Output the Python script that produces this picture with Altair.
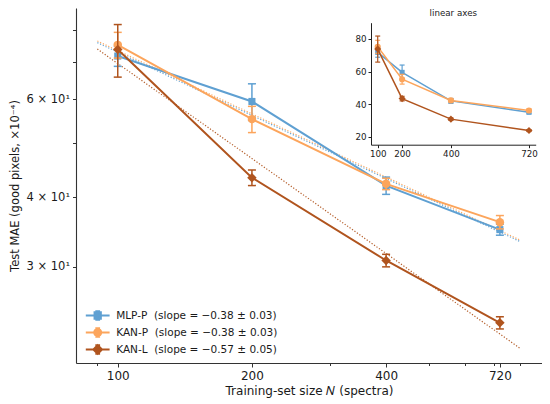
import altair as alt
import pandas as pd

# ---------------- data ----------------
N = [100, 200, 400, 720]
series_names = ["MLP-P", "KAN-P", "KAN-L"]
legend_labels = [
    "MLP-P\u00a0 (slope = \u22120.38 \u00b1 0.03)",
    "KAN-P\u00a0 (slope = \u22120.38 \u00b1 0.03)",
    "KAN-L\u00a0 (slope = \u22120.57 \u00b1 0.05)",
]
mae_mlp = [71.8, 59.5, 42.0, 35.0]
err_mlp = [3.0, 4.5, 1.5, 0.8]
mae_kanp = [75.2, 55.3, 42.3, 36.1]
err_kanp = [4.0, 3.0, 1.0, 1.0]
mae_kanl = [73.8, 43.4, 30.8, 23.8]
err_kanl = [8.0, 1.4, 0.8, 0.6]

fit_N = [90, 800]
fit_mlp = [75.9, 33.3]
fit_kanp = [76.4, 33.5]
fit_kanl = [73.9, 21.4]

colors = ["#5fa0d2", "#fca55c", "#b0541e"]
main_shapes = ["square", "circle", "diamond"]
main_sizes = [50, 72, 90]
inset_sizes = [26, 38, 50]

x_major = [100, 200, 400, 720]
x_minor = [90, 300, 500, 600, 700, 800]
y_major = [30, 40, 60]
y_major_labels = ["3 \u00d7 10\u00b9", "4 \u00d7 10\u00b9", "6 \u00d7 10\u00b9"]
y_minor = [50, 70, 80]
inset_x_ticks = [100, 200, 400, 720]
inset_y_ticks = [20, 40, 60, 80]

maes = [mae_mlp, mae_kanp, mae_kanl]
errs = [err_mlp, err_kanp, err_kanl]
fits = [fit_mlp, fit_kanp, fit_kanl]

FONT = "DejaVu Sans"
TXT = "#1a1a1a"

# legend symbols (line + errorbar + marker) as custom paths
line_p = "M-1.7,0L1.7,0"
eb_p = "M0,-0.62L0,0.62M-0.34,-0.62L0.34,-0.62M-0.34,0.62L0.34,0.62"
legend_paths = [
    line_p + eb_p + "M-0.45,-0.45L0.45,-0.45L0.45,0.45L-0.45,0.45Z",
    line_p + eb_p + "M-0.5,0A0.5,0.5 0 1,0 0.5,0A0.5,0.5 0 1,0 -0.5,0Z",
    line_p + eb_p + "M0,-0.62L0.62,0L0,0.62L-0.62,0Z",
]

def series_df(i):
    return pd.DataFrame({
        "N": N,
        "mae": maes[i],
        "lo": [m - e for m, e in zip(maes[i], errs[i])],
        "hi": [m + e for m, e in zip(maes[i], errs[i])],
        "label": legend_labels[i],
    })

all_df = pd.concat([series_df(i) for i in range(3)], ignore_index=True)

# ---------------- main axes ----------------
x_all = sorted(x_major + x_minor)
x_test = "indexof(" + str(x_major) + ", datum.value) >= 0"
main_x_axis = alt.Axis(
    values=x_all,
    labelExpr=x_test + " ? format(datum.value, 'd') : ''",
    tickSize={"condition": {"test": x_test, "value": 4}, "value": 2.5},
    title="Training-set size \U0001D441 (spectra)",
    titleFont=FONT, titleFontSize=12, titleFontWeight="normal", titleColor=TXT,
    labelFont=FONT, labelFontSize=12, labelColor=TXT, labelPadding=3,
    titlePadding=4,
    domainColor="#333333", tickColor="#333333", domainWidth=1.1,
    grid=False, labelFlush=False, labelOverlap=False,
)
y_all = sorted(y_major + y_minor)
y_expr = "''"
for v, lab in zip(reversed(y_major), reversed(y_major_labels)):
    y_expr = "datum.value == " + str(v) + " ? '" + lab + "' : (" + y_expr + ")"
main_y_axis = alt.Axis(
    values=y_all,
    labelExpr=y_expr,
    tickSize=3.5,
    title="Test MAE (good pixels, \u00d710\u207b\u2074)",
    titleFont=FONT, titleFontSize=11.5, titleFontWeight="normal", titleColor=TXT,
    labelFont=FONT, labelFontSize=11.5, labelColor=TXT, labelPadding=3,
    titlePadding=5,
    domainColor="#333333", tickColor="#333333", domainWidth=1.1,
    grid=False, labelFlush=False, labelOverlap=False,
)
mx_scale = alt.Scale(type="log", domain=[80.6, 895], nice=False)
my_scale = alt.Scale(type="log", domain=[20.15, 87.6], nice=False)

def MX(f="N"):
    return alt.X(f + ":Q", scale=mx_scale, axis=main_x_axis)

def MY(f="mae"):
    return alt.Y(f + ":Q", scale=my_scale, axis=main_y_axis)

main_layers = []
# fitted power laws (dotted)
for i in range(3):
    fdf = pd.DataFrame({"N": fit_N, "mae": fits[i]})
    main_layers.append(
        alt.Chart(fdf).mark_line(color=colors[i], strokeWidth=1.2,
                                 strokeDash=[1.2, 1.8], opacity=0.95)
        .encode(x=MX(), y=MY())
    )
for i in range(3):
    d = series_df(i)
    base = alt.Chart(d)
    main_layers.append(base.mark_line(color=colors[i], strokeWidth=2).encode(x=MX(), y=MY()))
    main_layers.append(base.mark_rule(color=colors[i], strokeWidth=1.5)
                       .encode(x=MX(), y=MY("lo"), y2="hi:Q"))
    main_layers.append(base.mark_tick(color=colors[i], orient="horizontal", size=8,
                                      thickness=1.5, opacity=1)
                       .encode(x=MX(), y=MY("lo")))
    main_layers.append(base.mark_tick(color=colors[i], orient="horizontal", size=8,
                                      thickness=1.5, opacity=1)
                       .encode(x=MX(), y=MY("hi")))
    main_layers.append(base.mark_point(color=colors[i], filled=True, opacity=1,
                                       shape=main_shapes[i], size=main_sizes[i])
                       .encode(x=MX(), y=MY()))

leg = alt.Legend(
    title=None, orient="none", legendX=13.7, legendY=299.5, padding=0,
    symbolSize=196, symbolOpacity=1, symbolStrokeWidth=2,
    labelOffset=10.5, rowPadding=-3.3,
    labelFont=FONT, labelFontSize=10.5, labelColor=TXT, labelLimit=400,
)
legend_layer = alt.Chart(all_df).mark_point(filled=True, opacity=0).encode(
    x=MX(), y=MY(),
    color=alt.Color("label:N", scale=alt.Scale(domain=legend_labels, range=colors), legend=leg),
    stroke=alt.Stroke("label:N", scale=alt.Scale(domain=legend_labels, range=colors), legend=leg),
    shape=alt.Shape("label:N", scale=alt.Scale(domain=legend_labels, range=legend_paths), legend=leg),
)
main_layers.append(legend_layer)
main = alt.layer(*main_layers)

# ---------------- inset ----------------
ix_scale = alt.Scale(domain=[72.5, 747.5], range=[295, 459.7], nice=False, zero=False)
iy_scale = alt.Scale(domain=[15.1, 90], range=[136.7, 14.7], nice=False, zero=False)
inset_x_axis = alt.Axis(
    values=inset_x_ticks, format="d", orient="bottom", offset=-218.3, title=None,
    labelFont=FONT, labelFontSize=8.7, labelColor=TXT, labelPadding=2, tickSize=3,
    domainColor="#222222", tickColor="#222222", grid=False,
    labelFlush=False, labelOverlap=False,
)
inset_y_axis = alt.Axis(
    values=inset_y_ticks, format="d", orient="left", offset=-295, title=None,
    labelFont=FONT, labelFontSize=8.7, labelColor=TXT, labelPadding=2, tickSize=3,
    domainColor="#222222", tickColor="#222222", grid=False,
    labelFlush=False, labelOverlap=False,
)

def IX(f="N"):
    return alt.X(f + ":Q", scale=ix_scale, axis=inset_x_axis)

def IY(f="mae"):
    return alt.Y(f + ":Q", scale=iy_scale, axis=inset_y_axis)

inset_layers = []
for i in range(3):
    d = series_df(i)
    base = alt.Chart(d)
    inset_layers.append(base.mark_line(color=colors[i], strokeWidth=1.5).encode(x=IX(), y=IY()))
    inset_layers.append(base.mark_rule(color=colors[i], strokeWidth=1.2)
                        .encode(x=IX(), y=IY("lo"), y2="hi:Q"))
    inset_layers.append(base.mark_tick(color=colors[i], orient="horizontal", size=5,
                                       thickness=1.2, opacity=1)
                        .encode(x=IX(), y=IY("lo")))
    inset_layers.append(base.mark_tick(color=colors[i], orient="horizontal", size=5,
                                       thickness=1.2, opacity=1)
                        .encode(x=IX(), y=IY("hi")))
    inset_layers.append(base.mark_point(color=colors[i], filled=True, opacity=1,
                                        shape=main_shapes[i], size=inset_sizes[i])
                        .encode(x=IX(), y=IY()))
inset_title = alt.Chart(pd.DataFrame({"t": ["linear axes"]})).mark_text(
    font=FONT, fontSize=8.7, fill=TXT, baseline="middle", align="center"
).encode(x=alt.value(377.3), y=alt.value(5.3), text="t:N", color=alt.value(TXT))
inset_layers.append(inset_title)
inset = alt.layer(*inset_layers)

chart = (
    alt.layer(main, inset)
    .resolve_scale(x="independent", y="independent")
    .properties(
        width=466, height=355,
        autosize=alt.AutoSizeParams(type="none"),
        padding={"left": 68, "top": 0, "right": 0, "bottom": 40},
        background="white",
    )
    .configure_view(stroke=None)
)

chart.save("out.html", embed_options={"renderer": "svg", "actions": False})
